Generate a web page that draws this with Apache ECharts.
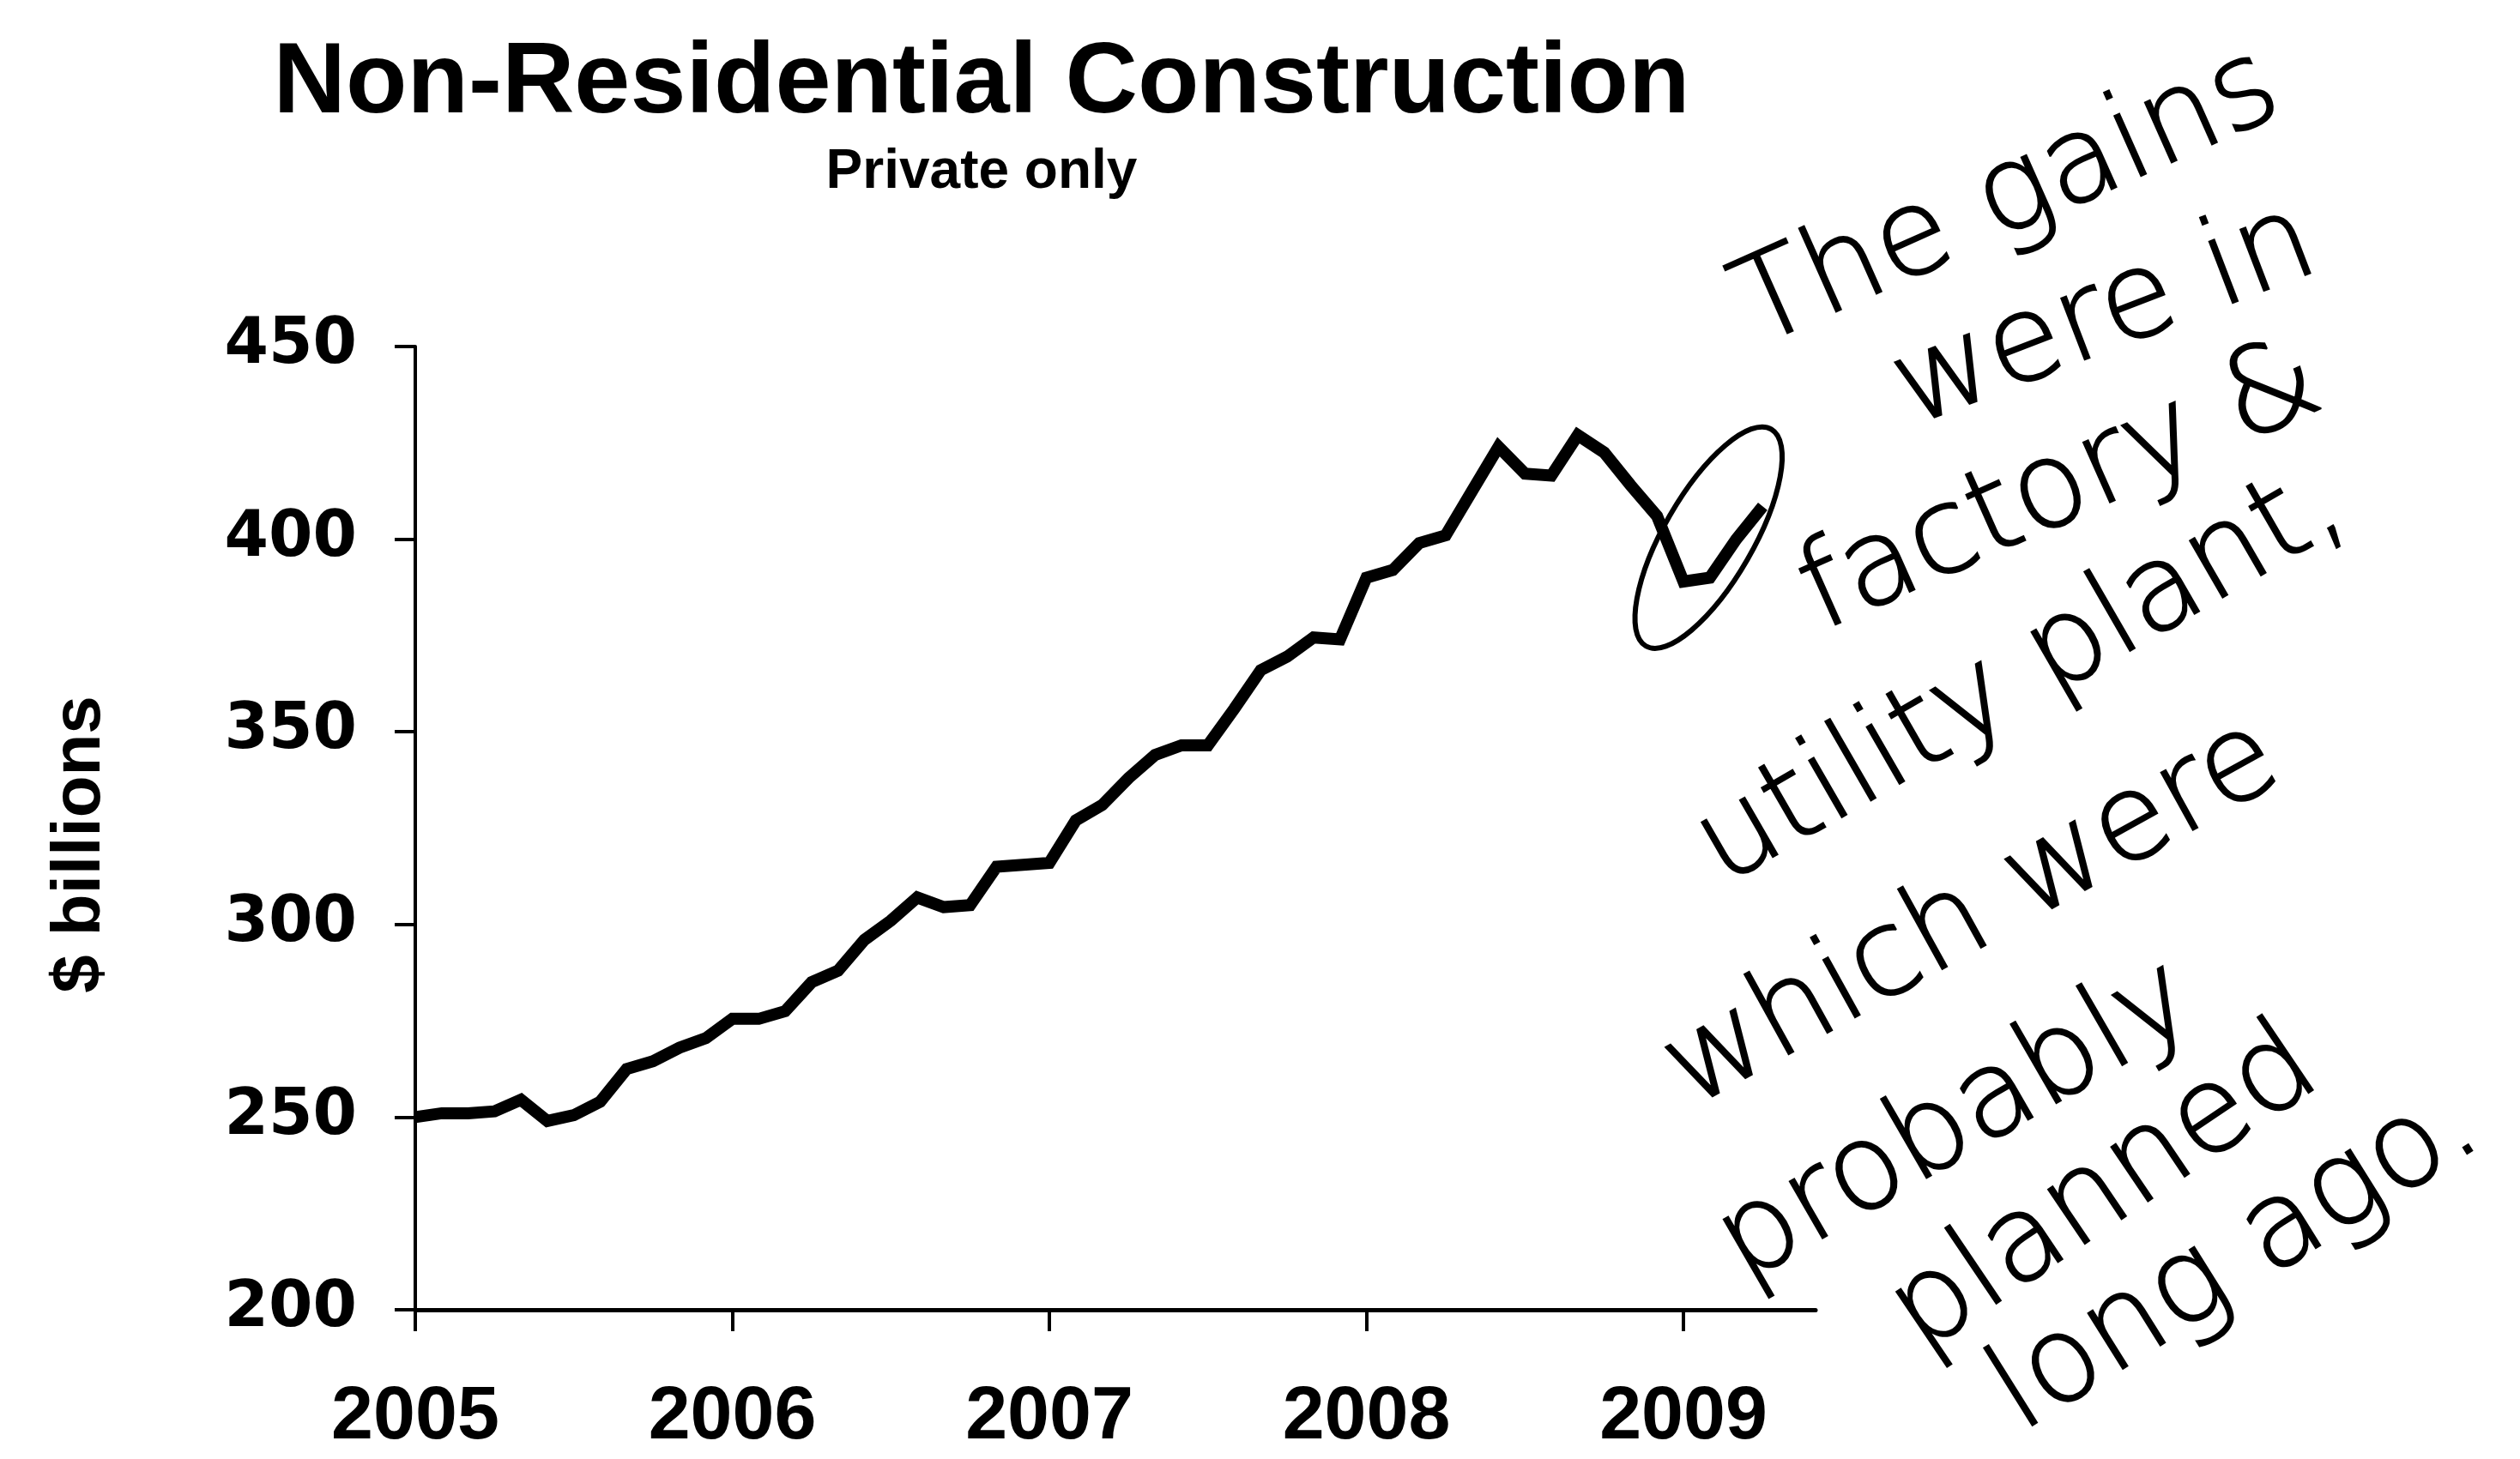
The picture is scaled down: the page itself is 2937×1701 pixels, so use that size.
<!DOCTYPE html>
<html><head><meta charset="utf-8">
<script src="https://cdn.jsdelivr.net/npm/echarts@6/dist/echarts.min.js"></script>
<style>html,body{margin:0;padding:0;background:#fff}#c{width:2937px;height:1701px}</style>
</head><body><div id="c"></div>
<script>
// Monthly values, Jan 2005 .. Apr 2009 ($ billions, private non-residential construction)
const values = [250, 251, 251, 251.5, 254.5, 249, 250.5, 254, 262.5, 264.5, 268, 270.5,
  275.5, 275.5, 277.5, 285, 288, 296, 301, 307, 304.5, 305, 315, 315.5,
  316, 327, 331, 338, 344, 346.5, 346.5, 356, 366, 369.5, 374.5, 374,
  390, 392, 399, 401, 412.5, 424, 417, 416.5, 427, 422.5, 414, 406,
  389, 390, 400, 408.5];
const yearLabels = ['2005', '2006', '2007', '2008', '2009'];
const yearTickMonths = [0, 12, 24, 36, 48];
const yTicks = [200, 250, 300, 350, 400, 450];
const noteLines = ['The gains', 'were in', 'factory &', 'utility plant,', 'which were', 'probably', 'planned', 'long ago.'];
const circledPoint = [48.95, 400.4];

const chart = echarts.init(document.getElementById('c'), null, {renderer: 'canvas'});
const seriesData = values.map((v, i) => [i, v]);

const noteLayout = [
  [2341, 234, 24], [2454, 371, 21], [2403, 571, 24], [2356, 790, 30],
  [2300, 1068, 29], [2281, 1311, 30], [2454, 1390, 34], [2607, 1470, 32]
];

chart.setOption({
  animation: false,
  backgroundColor: '#fff',
  title: {
    text: 'Non-Residential Construction',
    subtext: 'Private only',
    left: 1144, top: 40, textAlign: 'center', itemGap: 12, padding: 0,
    textStyle: {fontFamily: 'Liberation Sans', fontWeight: 'bold', fontSize: 117, color: '#000'},
    subtextStyle: {fontFamily: 'Liberation Sans', fontWeight: 'bold', fontSize: 64, color: '#000'}
  },
  grid: {left: 484, right: 821, top: 404, bottom: 174, containLabel: false},
  xAxis: {
    type: 'value', min: 0, max: 53, interval: 12,
    axisLine: {show: true, lineStyle: {color: '#000', width: 5}},
    axisTick: {show: true, length: 25, lineStyle: {color: '#000', width: 4}, customValues: yearTickMonths},
    axisLabel: {
      customValues: yearTickMonths,
      formatter: v => yearLabels[yearTickMonths.indexOf(v)] || '',
      fontFamily: 'Liberation Sans', fontWeight: 'bold', fontSize: 88, color: '#000', margin: 82
    },
    splitLine: {show: false}
  },
  yAxis: {
    type: 'value', min: yTicks[0], max: yTicks[yTicks.length - 1], interval: 50,
    name: '$ billions', nameLocation: 'middle', nameRotate: 90, nameGap: 350,
    nameTextStyle: {fontFamily: 'Liberation Sans', fontWeight: 'bold', fontSize: 80, color: '#000', padding: [0, 38, 0, 0]},
    axisLine: {show: true, lineStyle: {color: '#000', width: 4}},
    axisTick: {show: true, length: 24, lineStyle: {color: '#000', width: 4}},
    axisLabel: {fontFamily: 'DejaVu Sans', fontWeight: 'bold', fontSize: 74, color: '#000', margin: 68},
    splitLine: {show: false}
  },
  series: [{
    type: 'line', data: seriesData, symbol: 'none', smooth: false,
    lineStyle: {color: '#000', width: 14, join: 'miter'}
  }]
});

const c = chart.convertToPixel({gridIndex: 0}, circledPoint);
const graphics = noteLines.map((t, i) => ({
  type: 'text', x: noteLayout[i][0], y: noteLayout[i][1],
  rotation: noteLayout[i][2] * Math.PI / 180,
  style: {text: t, fill: '#000', stroke: '#000', lineWidth: 2,
    font: '200 140px "DejaVu Sans ExtraLight", "DejaVu Sans"', align: 'center', verticalAlign: 'middle'}
}));
graphics.push({
  type: 'ellipse', x: c[0], y: c[1], rotation: 60 * Math.PI / 180,
  shape: {cx: 0, cy: 0, rx: 146, ry: 52},
  style: {fill: 'none', stroke: '#000', lineWidth: 6}
});
chart.setOption({graphic: graphics});
</script></body></html>
